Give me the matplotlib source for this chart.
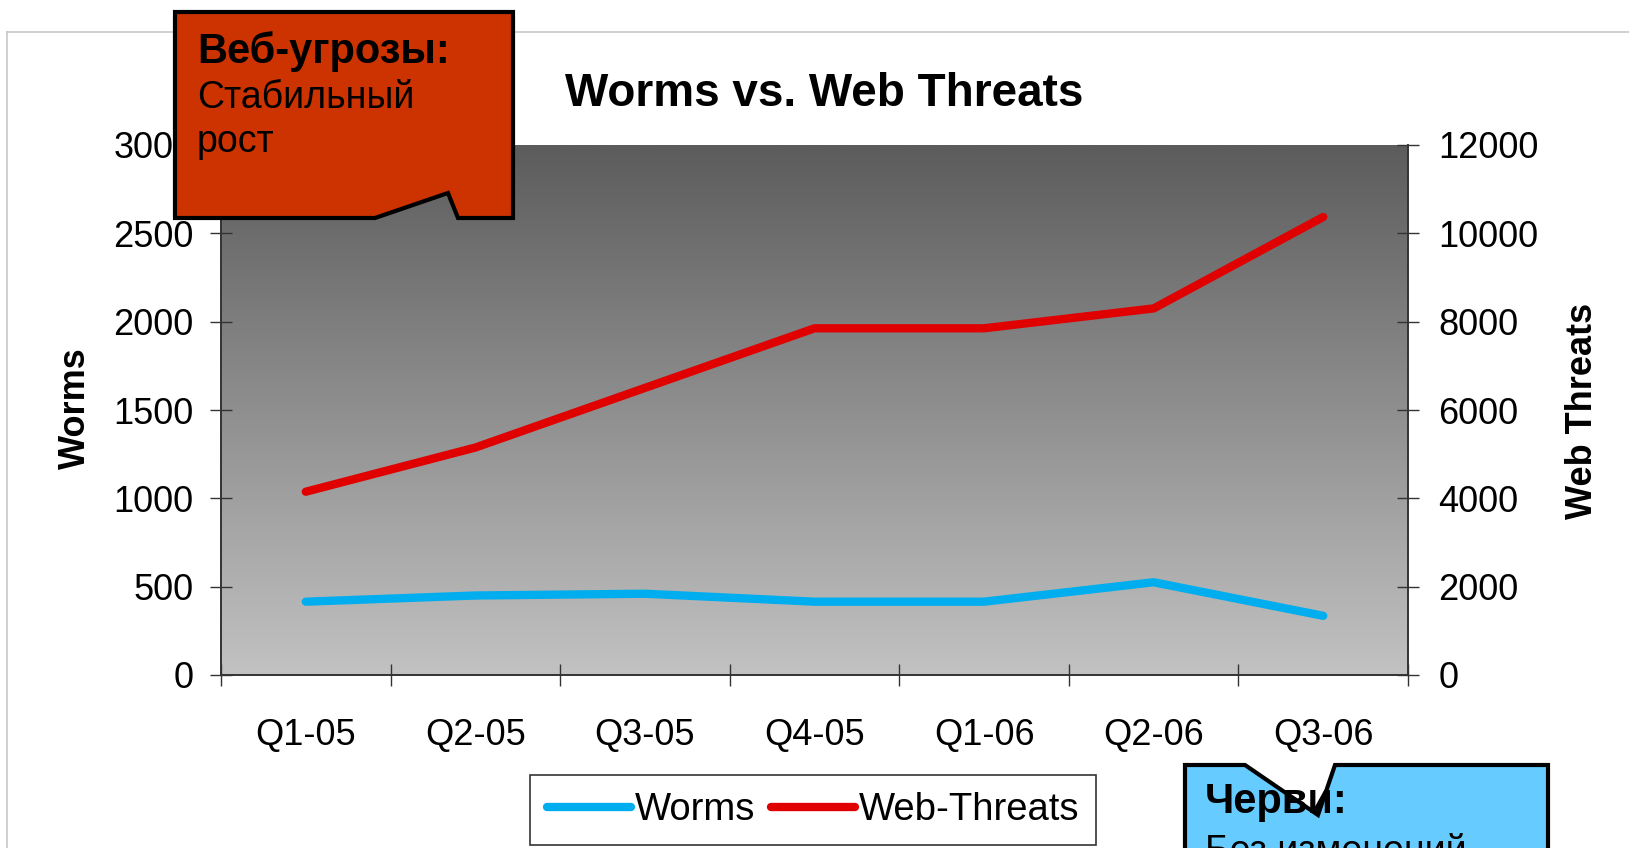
import numpy as np
import matplotlib
matplotlib.use('Agg')
import matplotlib.pyplot as plt
from matplotlib.colors import LinearSegmentedColormap
from matplotlib.patches import Polygon
from matplotlib.lines import Line2D

plt.rcParams['font.family'] = ['Liberation Sans', 'DejaVu Sans']

quarters = ['Q1-05', 'Q2-05', 'Q3-05', 'Q4-05', 'Q1-06', 'Q2-06', 'Q3-06']
worms = [415, 450, 460, 415, 415, 525, 335]
web_threats = [4150, 5150, 6500, 7850, 7850, 8300, 10370]

W, H = 1629, 848
fig = plt.figure(figsize=(W / 100, H / 100), dpi=100)

def fx(px):
    return px / W

def fy(py):
    return 1 - py / H

# thin outer frame
fig.add_artist(Line2D([fx(7), fx(7)], [fy(32), 0], color='#c8c8c8', lw=1.2))
fig.add_artist(Line2D([fx(7), 1], [fy(32), fy(32)], color='#c8c8c8', lw=1.2))

pos = [fx(221), fy(675), fx(1408) - fx(221), fy(145) - fy(675)]

# gradient background of the plot area
bg = fig.add_axes(pos, zorder=0)
cmap = LinearSegmentedColormap.from_list('g', ['#5c5c5c', '#c2c2c2'])
bg.imshow(np.linspace(0, 1, 256).reshape(-1, 1), cmap=cmap, aspect='auto',
          extent=[0, 1, 0, 1])
bg.axis('off')

ax = fig.add_axes(pos, zorder=1)
ax.set_facecolor('none')
ax2 = ax.twinx()

x = np.arange(len(quarters))
ax.plot(x, worms, color='#00aeef', lw=6, solid_capstyle='round', label='Worms')
ax2.plot(x, web_threats, color='#e00000', lw=6, solid_capstyle='round', label='Web-Threats')

ax.set_xlim(-0.5, len(quarters) - 0.5)
ax.set_ylim(0, 3000)
ax2.set_ylim(0, 12000)
ax.set_yticks(np.arange(0, 3001, 500))
ax2.set_yticks(np.arange(0, 12001, 2000))

ax.set_xticks(np.arange(-0.5, len(quarters)), minor=False)
ax.set_xticklabels([''] * (len(quarters) + 1))
ax.set_xticks(x, minor=True)
ax.set_xticklabels(quarters, minor=True)
ax.tick_params(axis='x', which='minor', length=0, pad=31, labelsize=26)
ax.tick_params(axis='x', which='major', direction='inout', length=16, width=1, color='#333333')
ax.tick_params(axis='y', direction='inout', length=16, width=1, color='#333333',
               labelsize=26, pad=12)
ax2.tick_params(axis='y', direction='inout', length=16, width=1, color='#333333',
                labelsize=26, pad=14)

for a in (ax, ax2):
    a.spines['top'].set_visible(False)
    for s in ('left', 'right', 'bottom'):
        a.spines[s].set_color('#333333')
        a.spines[s].set_linewidth(1.2)

fig.text(fx(824), fy(94), 'Worms vs. Web Threats', ha='center', va='center',
         fontsize=33, fontweight='bold')
fig.text(fx(75), fy(408), 'Worms', rotation=90, ha='center', va='center',
         fontsize=26, fontweight='bold')
fig.text(fx(1582), fy(411), 'Web Threats', rotation=90, ha='center', va='center',
         fontsize=26, fontweight='bold')

handles = ax.get_lines() + ax2.get_lines()
leg = fig.legend(handles, [h.get_label() for h in handles], loc='center',
                 bbox_to_anchor=(fx(813), fy(810)), ncol=2, fontsize=27.5,
                 handlelength=2.2, handletextpad=0.1, columnspacing=0.4,
                 borderpad=0.45, fancybox=False, framealpha=1)
leg.get_frame().set_edgecolor('#333333')
leg.get_frame().set_linewidth(1.2)

# callouts
red_pts = [(175, 12), (513, 12), (513, 218), (458, 218), (448, 193), (375, 218), (175, 218)]
fig.add_artist(Polygon([(fx(a), fy(b)) for a, b in red_pts], closed=True,
                       facecolor='#cc3300', edgecolor='black', lw=3, zorder=10,
                       joinstyle='miter'))
fig.text(fx(197), fy(63), 'Веб-угрозы:', fontsize=30, fontweight='bold',
         va='baseline', ha='left', zorder=11)
fig.text(fx(197), fy(108), 'Стабильный', fontsize=27, va='baseline', ha='left', zorder=11)
fig.text(fx(197), fy(152), 'рост', fontsize=27, va='baseline', ha='left', zorder=11)

blue_pts = [(1185, 765), (1245, 765), (1318, 815), (1335, 765), (1548, 765), (1548, 880), (1185, 880)]
fig.add_artist(Polygon([(fx(a), fy(b)) for a, b in blue_pts], closed=True,
                       facecolor='#66ccff', edgecolor='black', lw=3, zorder=10,
                       joinstyle='miter'))
fig.text(fx(1205), fy(813), 'Черви:', fontsize=30, fontweight='bold',
         va='baseline', ha='left', zorder=11)
fig.text(fx(1205), fy(862), 'Без изменений', fontsize=27, va='baseline', ha='left', zorder=11)

fig.savefig('out.png', dpi=100)
